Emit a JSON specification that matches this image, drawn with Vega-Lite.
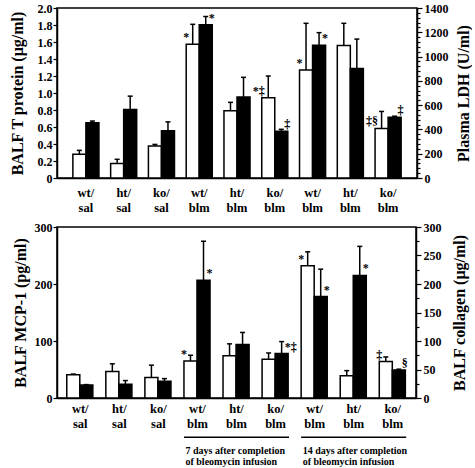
{
  "$schema": "https://vega.github.io/schema/vega-lite/v6.json",
  "background": "white",
  "padding": {"left": 8, "top": 1, "right": 0, "bottom": 0},
  "spacing": 5,
  "config": {
    "font": "Liberation Serif",
    "view": {"stroke": "black", "strokeWidth": 1.5},
    "axis": {
      "labelFont": "Liberation Serif", "titleFont": "Liberation Serif",
      "labelFontWeight": "bold", "titleFontWeight": "bold",
      "labelColor": "black", "titleColor": "black",
      "domainColor": "black", "tickColor": "black",
      "domainWidth": 1.5, "tickWidth": 1.2, "grid": false,
      "labelFontSize": 12, "titleFontSize": 16,
      "labelOverlap": false, "labelFlush": false
    },
    "text": {"font": "Liberation Serif", "fill": "black"}
  },
  "datasets": {
    "top": [
      {"g": "wt/|sal", "s": "white", "v": 0.28, "hi": 0.325, "note": ""},
      {"g": "ht/|sal", "s": "white", "v": 0.17, "hi": 0.22, "note": ""},
      {"g": "ko/|sal", "s": "white", "v": 0.376, "hi": 0.395, "note": ""},
      {"g": "wt/|blm|7", "s": "white", "v": 1.573, "hi": 1.808, "note": "*"},
      {"g": "ht/|blm|7", "s": "white", "v": 0.79, "hi": 0.89, "note": ""},
      {"g": "ko/|blm|7", "s": "white", "v": 0.943, "hi": 1.2, "note": "*‡"},
      {"g": "wt/|blm|14", "s": "white", "v": 1.272, "hi": 1.82, "note": "*"},
      {"g": "ht/|blm|14", "s": "white", "v": 1.558, "hi": 1.82, "note": ""},
      {"g": "ko/|blm|14", "s": "white", "v": 0.583, "hi": 0.783, "note": "‡§"},
      {"g": "wt/|sal", "s": "black", "v": 455, "hi": 469, "note": ""},
      {"g": "ht/|sal", "s": "black", "v": 564, "hi": 674, "note": ""},
      {"g": "ko/|sal", "s": "black", "v": 389, "hi": 462, "note": ""},
      {"g": "wt/|blm|7", "s": "black", "v": 1263, "hi": 1330, "note": "*"},
      {"g": "ht/|blm|7", "s": "black", "v": 668, "hi": 829, "note": ""},
      {"g": "ko/|blm|7", "s": "black", "v": 384, "hi": 401, "note": "‡"},
      {"g": "wt/|blm|14", "s": "black", "v": 1094, "hi": 1197, "note": "*"},
      {"g": "ht/|blm|14", "s": "black", "v": 902, "hi": 1144, "note": ""},
      {"g": "ko/|blm|14", "s": "black", "v": 501, "hi": 509, "note": "‡"}
    ],
    "bottom": [
      {"g": "wt/|sal", "s": "white", "v": 41, "hi": 42, "note": ""},
      {"g": "ht/|sal", "s": "white", "v": 46.5, "hi": 60, "note": ""},
      {"g": "ko/|sal", "s": "white", "v": 36, "hi": 57.6, "note": ""},
      {"g": "wt/|blm|7", "s": "white", "v": 65, "hi": 75, "note": "*"},
      {"g": "ht/|blm|7", "s": "white", "v": 74, "hi": 95, "note": ""},
      {"g": "ko/|blm|7", "s": "white", "v": 68, "hi": 79, "note": ""},
      {"g": "wt/|blm|14", "s": "white", "v": 232, "hi": 256.5, "note": "*"},
      {"g": "ht/|blm|14", "s": "white", "v": 39, "hi": 48, "note": ""},
      {"g": "ko/|blm|14", "s": "white", "v": 64, "hi": 72, "note": "‡"},
      {"g": "wt/|sal", "s": "black", "v": 23, "hi": 23.5, "note": ""},
      {"g": "ht/|sal", "s": "black", "v": 24, "hi": 30.6, "note": ""},
      {"g": "ko/|sal", "s": "black", "v": 29.4, "hi": 34, "note": ""},
      {"g": "wt/|blm|7", "s": "black", "v": 206.5, "hi": 275, "note": "*"},
      {"g": "ht/|blm|7", "s": "black", "v": 94, "hi": 115, "note": ""},
      {"g": "ko/|blm|7", "s": "black", "v": 78, "hi": 99, "note": "*‡"},
      {"g": "wt/|blm|14", "s": "black", "v": 178, "hi": 226, "note": "*"},
      {"g": "ht/|blm|14", "s": "black", "v": 215, "hi": 266, "note": "*"},
      {"g": "ko/|blm|14", "s": "black", "v": 49, "hi": 50.6, "note": "§"}
    ],
    "brackets": [
      {"g": "wt/|blm|7", "end": "ko/|blm|7", "label": "7 days after completion|of bleomycin infusion"},
      {"g": "wt/|blm|14", "end": "ko/|blm|14", "label": "14 days after completion|of bleomycin infusion"}
    ]
  },
  "vconcat": [
    {
      "width": 360, "height": 170,
      "data": {"name": "top"},
      "encoding": {
        "x": {"field": "g", "type": "nominal",
          "scale": {"domain": ["wt/|sal","ht/|sal","ko/|sal","wt/|blm|7","ht/|blm|7","ko/|blm|7","wt/|blm|14","ht/|blm|14","ko/|blm|14"], "paddingInner": 0.31, "paddingOuter": 0.42},
          "axis": {"title": null, "labelAngle": 0, "labelExpr": "slice(split(datum.value, '|'), 0, 2)", "ticks": false, "labelPadding": 8, "labelLineHeight": 15, "labelBaseline": "top", "labelFontSize": 12.5}}
      },
      "layer": [
        {
          "transform": [{"filter": "datum.s == 'white'"}],
          "encoding": {
            "xOffset": {"field": "s", "type": "nominal", "sort": ["white", "black"], "scale": {"domain": ["white", "black"], "paddingInner": 0, "paddingOuter": 0}},
            "y": {"field": "v", "type": "quantitative", "scale": {"domain": [0, 2]},
              "axis": {"title": "BALF T protein (μg/ml)", "orient": "left", "values": [0,0.2,0.4,0.6,0.8,1.0,1.2,1.4,1.6,1.8,2.0], "labelExpr": "datum.value == 0 ? '0' : format(datum.value, '.1f')", "tickSize": 4, "labelPadding": 1, "titlePadding": 12}}
          },
          "layer": [
            {"mark": {"type": "bar", "fill": "white", "stroke": "black", "strokeWidth": 1.5}},
            {"mark": {"type": "rule", "strokeWidth": 1.5, "color": "black"}, "encoding": {"y2": {"field": "hi"}}},
            {"mark": {"type": "tick", "thickness": 1.5, "size": 5, "color": "black", "opacity": 1}, "encoding": {"y": {"field": "hi", "type": "quantitative", "title": "BALF T protein (μg/ml)", "scale": {"domain": [0, 2]}}}},
            {"mark": {"type": "text", "align": "right", "baseline": "middle", "dx": -3.5, "dy": -7, "fontSize": 12, "fontWeight": "bold", "fill": "black"}, "encoding": {"text": {"field": "note", "type": "nominal"}}}
          ]
        },
        {
          "transform": [{"filter": "datum.s == 'black'"}],
          "encoding": {
            "xOffset": {"field": "s", "type": "nominal", "sort": ["white", "black"], "scale": {"domain": ["white", "black"], "paddingInner": 0, "paddingOuter": 0}},
            "y": {"field": "v", "type": "quantitative", "scale": {"domain": [0, 1400]},
              "axis": {"title": "Plasma LDH (U/ml)", "orient": "right", "titleAngle": 270, "titleBaseline": "top", "format": "d", "values": [0,40,80,120,160,200,240,280,320,360,400,440,480,520,560,600,640,680,720,760,800,840,880,920,960,1000,1040,1080,1120,1160,1200,1240,1280,1320,1360,1400], "labelExpr": "datum.value % 200 == 0 ? datum.label : ''", "tickSize": {"condition": {"test": "datum.value % 200 == 0", "value": 5}, "value": 3}, "labelPadding": 2, "titlePadding": 7}}
          },
          "layer": [
            {"mark": {"type": "bar", "fill": "black", "stroke": "black", "strokeWidth": 1.5}},
            {"mark": {"type": "rule", "strokeWidth": 1.5, "color": "black"}, "encoding": {"y2": {"field": "hi"}}},
            {"mark": {"type": "tick", "thickness": 1.5, "size": 5, "color": "black", "opacity": 1}, "encoding": {"y": {"field": "hi", "type": "quantitative", "title": "Plasma LDH (U/ml)", "scale": {"domain": [0, 1400]}}}},
            {"mark": {"type": "text", "align": "left", "baseline": "middle", "dx": 3, "dy": -7, "fontSize": 12, "fontWeight": "bold", "fill": "black"}, "encoding": {"text": {"field": "note", "type": "nominal"}}}
          ]
        }
      ],
      "resolve": {"scale": {"y": "independent"}}
    },
    {
      "width": 359, "height": 171,
      "data": {"name": "bottom"},
      "encoding": {
        "x": {"field": "g", "type": "nominal",
          "scale": {"domain": ["wt/|sal","ht/|sal","ko/|sal","wt/|blm|7","ht/|blm|7","ko/|blm|7","wt/|blm|14","ht/|blm|14","ko/|blm|14"], "paddingInner": 0.31, "paddingOuter": 0.25},
          "axis": {"title": null, "labelAngle": 0, "labelExpr": "slice(split(datum.value, '|'), 0, 2)", "ticks": false, "labelPadding": 4, "labelLineHeight": 15.5, "labelBaseline": "top", "labelFontSize": 12.5}}
      },
      "layer": [
        {
          "layer": [
            {
              "transform": [{"filter": "datum.s == 'white'"}],
              "encoding": {
                "xOffset": {"field": "s", "type": "nominal", "sort": ["white", "black"], "scale": {"domain": ["white", "black"], "paddingInner": 0, "paddingOuter": 0}},
                "y": {"field": "v", "type": "quantitative", "scale": {"domain": [0, 300]},
                  "axis": {"title": "BALF MCP-1 (pg/ml)", "orient": "left", "values": [0,25,50,75,100,125,150,175,200,225,250,275,300], "labelExpr": "datum.value % 50 == 0 ? datum.label : ''", "tickSize": {"condition": {"test": "datum.value % 50 == 0", "value": 4}, "value": 2.5}, "labelPadding": 1, "titlePadding": 6}}
              },
              "layer": [
                {"mark": {"type": "bar", "fill": "white", "stroke": "black", "strokeWidth": 1.5}},
                {"mark": {"type": "rule", "strokeWidth": 1.5, "color": "black"}, "encoding": {"y2": {"field": "hi"}}},
                {"mark": {"type": "tick", "thickness": 1.5, "size": 5, "color": "black", "opacity": 1}, "encoding": {"y": {"field": "hi", "type": "quantitative", "title": "BALF MCP-1 (pg/ml)", "scale": {"domain": [0, 300]}}}},
                {"mark": {"type": "text", "align": "right", "baseline": "middle", "dx": -3.5, "dy": -7, "fontSize": 12, "fontWeight": "bold", "fill": "black"}, "encoding": {"text": {"field": "note", "type": "nominal"}}}
              ]
            },
            {
              "data": {"name": "brackets"},
              "layer": [
                {"mark": {"type": "rule", "strokeWidth": 1.5, "color": "black"},
                  "encoding": {
                    "x": {"field": "g", "type": "nominal", "bandPosition": 0, "title": null,
                      "scale": {"domain": ["wt/|sal","ht/|sal","ko/|sal","wt/|blm|7","ht/|blm|7","ko/|blm|7","wt/|blm|14","ht/|blm|14","ko/|blm|14"], "paddingInner": 0.31, "paddingOuter": 0.25},
                      "axis": {"title": null, "labelAngle": 0, "labelExpr": "slice(split(datum.value, '|'), 0, 2)", "ticks": false, "labelPadding": 4, "labelLineHeight": 15.5, "labelBaseline": "top", "labelFontSize": 12.5}},
                    "x2": {"field": "end", "bandPosition": 1},
                    "y": {"datum": -69, "type": "quantitative", "title": "BALF MCP-1 (pg/ml)"}
                  }},
                {"mark": {"type": "text", "align": "left", "baseline": "top", "lineBreak": "|", "lineHeight": 11.5, "fontSize": 10, "fontWeight": "bold", "dx": 1.5, "fill": "black"},
                  "encoding": {
                    "x": {"field": "g", "type": "nominal", "bandPosition": 0, "title": null,
                      "scale": {"domain": ["wt/|sal","ht/|sal","ko/|sal","wt/|blm|7","ht/|blm|7","ko/|blm|7","wt/|blm|14","ht/|blm|14","ko/|blm|14"], "paddingInner": 0.31, "paddingOuter": 0.25},
                      "axis": {"title": null, "labelAngle": 0, "labelExpr": "slice(split(datum.value, '|'), 0, 2)", "ticks": false, "labelPadding": 4, "labelLineHeight": 15.5, "labelBaseline": "top", "labelFontSize": 12.5}},
                    "y": {"datum": -84, "type": "quantitative", "title": "BALF MCP-1 (pg/ml)"},
                    "text": {"field": "label", "type": "nominal"}
                  }}
              ]
            }
          ]
        },
        {
          "transform": [{"filter": "datum.s == 'black'"}],
          "encoding": {
            "xOffset": {"field": "s", "type": "nominal", "sort": ["white", "black"], "scale": {"domain": ["white", "black"], "paddingInner": 0, "paddingOuter": 0}},
            "y": {"field": "v", "type": "quantitative", "scale": {"domain": [0, 300]},
              "axis": {"title": "BALF collagen (μg/ml)", "orient": "right", "titleAngle": 270, "titleBaseline": "top", "values": [0,25,50,75,100,125,150,175,200,225,250,275,300], "labelExpr": "datum.value % 50 == 0 ? datum.label : ''", "tickSize": {"condition": {"test": "datum.value % 50 == 0", "value": 5}, "value": 3}, "labelPadding": 2, "titlePadding": 10}}
          },
          "layer": [
            {"mark": {"type": "bar", "fill": "black", "stroke": "black", "strokeWidth": 1.5}},
            {"mark": {"type": "rule", "strokeWidth": 1.5, "color": "black"}, "encoding": {"y2": {"field": "hi"}}},
            {"mark": {"type": "tick", "thickness": 1.5, "size": 5, "color": "black", "opacity": 1}, "encoding": {"y": {"field": "hi", "type": "quantitative", "title": "BALF collagen (μg/ml)", "scale": {"domain": [0, 300]}}}},
            {"mark": {"type": "text", "align": "left", "baseline": "middle", "dx": 3, "dy": -7, "fontSize": 12, "fontWeight": "bold", "fill": "black"}, "encoding": {"text": {"field": "note", "type": "nominal"}}}
          ]
        }
      ],
      "resolve": {"scale": {"y": "independent"}}
    }
  ]
}
